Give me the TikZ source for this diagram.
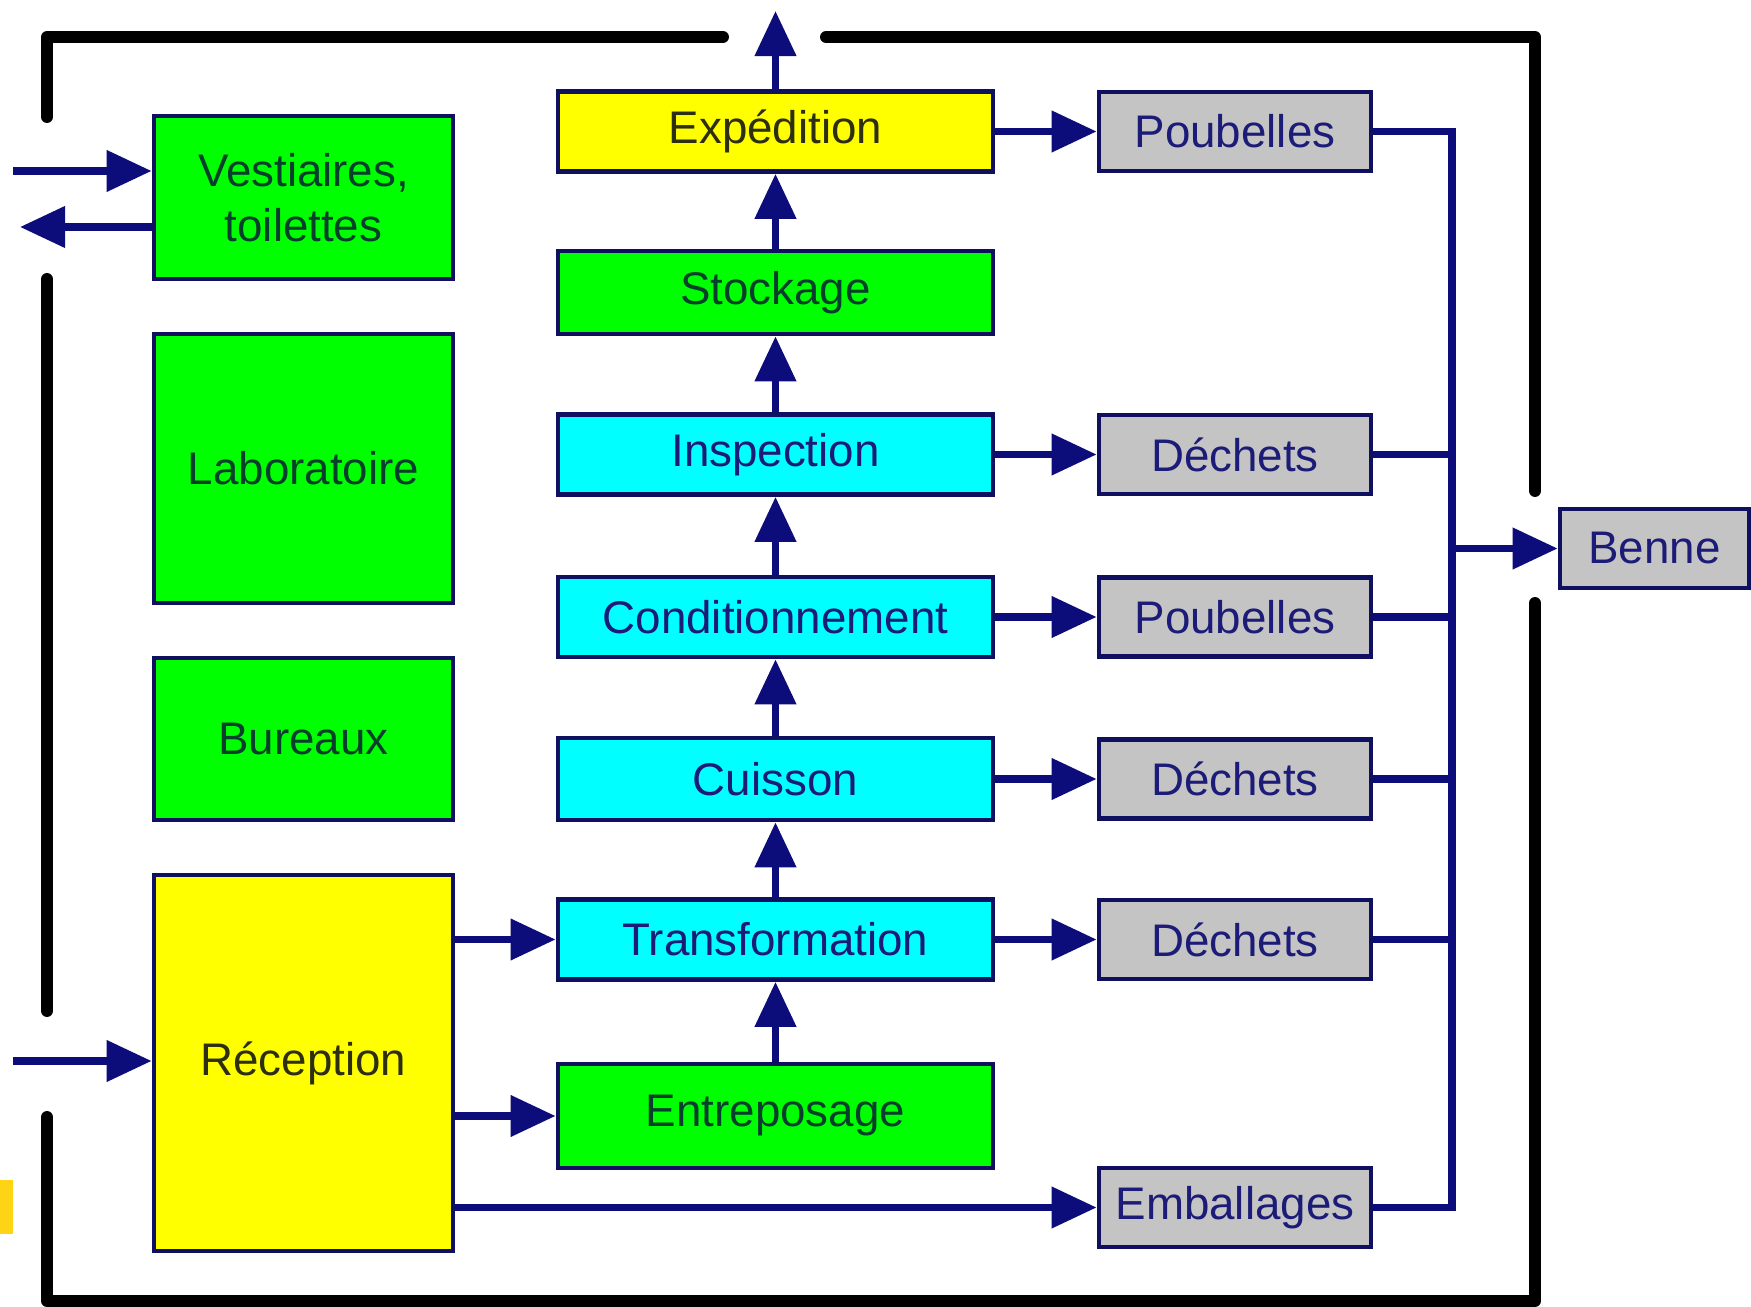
\documentclass[tikz,border=0pt]{standalone}
\usepackage{fontspec}
\setmainfont{Liberation Sans}
\usetikzlibrary{arrows.meta}
\definecolor{flowblue}{HTML}{0C0C7A}
\definecolor{edgeblue}{HTML}{101060}
\definecolor{boxgreen}{HTML}{00FF00}
\definecolor{boxcyan}{HTML}{00FFFF}
\definecolor{boxyellow}{HTML}{FFFF00}
\definecolor{boxgrey}{HTML}{C4C4C4}
\definecolor{txtgreen}{HTML}{06402C}
\definecolor{txtyellow}{HTML}{2E2E10}
\definecolor{txtblue}{HTML}{1C1C78}
\definecolor{patchgold}{HTML}{FFD414}
\tikzset{
  box/.style={draw=edgeblue, line width=1.3pt, inner sep=0pt, align=center,
    font=\fontsize{13}{15.5}\selectfont},
  midbox/.style={box, minimum width=4.35cm, minimum height=0.8cm},
  leftbox/.style={box, minimum width=2.99cm},
  wastebox/.style={box, fill=boxgrey, text=txtblue, minimum width=2.72cm, minimum height=0.79cm},
  green/.style={fill=boxgreen, text=txtgreen},
  cyan/.style={fill=boxcyan, text=txtblue},
  yellow/.style={fill=boxyellow, text=txtyellow},
  flow/.style={draw=flowblue, line width=2.1pt, -{Triangle[length=4.5mm,width=4mm]}},
  link/.style={draw=flowblue, line width=2.1pt, line join=miter},
  wall/.style={draw=black, line width=3.4pt, line cap=round, line join=round}
}
\begin{document}
\begin{tikzpicture}[x=0.01cm,y=-0.01cm]
\useasboundingbox (0,0) rectangle (1751,1307);

% building walls
\draw[wall] (47,117) -- (47,37) -- (723,37);
\draw[wall] (826,37) -- (1535,37) -- (1535,491);
\draw[wall] (1535,603) -- (1535,1301) -- (47,1301) -- (47,1117);
\draw[wall] (47,279) -- (47,1011);

% small marker at the lower left edge
\fill[patchgold] (0,1180) rectangle (13,1234);

% left column
\node[leftbox, green, minimum height=1.63cm] (vest) at (303.5,197.5) {Vestiaires,\\toilettes};
\node[leftbox, green, minimum height=2.69cm] (labo) at (303.5,468.5) {Laboratoire};
\node[leftbox, green, minimum height=1.62cm] (bur) at (303.5,739) {Bureaux};
\node[leftbox, yellow, minimum height=3.76cm] (recep) at (303.5,1063) {Réception};

% production line
\node[midbox, yellow] (exped) at (775.5,131.5) {Expédition};
\node[midbox, green, minimum height=0.83cm] (stock) at (775.5,292.5) {Stockage};
\node[midbox, cyan] (insp) at (775.5,454.5) {Inspection};
\node[midbox, cyan] (cond) at (775.5,617) {Conditionnement};
\node[midbox, cyan, minimum height=0.82cm] (cuis) at (775.5,779) {Cuisson};
\node[midbox, cyan] (transf) at (775.5,939.5) {Transformation};
\node[midbox, green, minimum height=1.04cm] (entr) at (775.5,1116) {Entreposage};

% waste containers
\node[wastebox] (poub1) at (1235,131.5) {Poubelles};
\node[wastebox] (dech1) at (1235,454.5) {Déchets};
\node[wastebox] (poub2) at (1235,617) {Poubelles};
\node[wastebox] (dech2) at (1235,779) {Déchets};
\node[wastebox] (dech3) at (1235,939.5) {Déchets};
\node[wastebox] (emb) at (1235,1207.5) {Emballages};
\node[wastebox, minimum width=1.89cm] (benne) at (1654.5,548.5) {Benne};

% entrances and exits
\coordinate (vin) at (13,171);
\coordinate (vout) at (20,227);
\coordinate (rin) at (13,1061);
\coordinate (outtop) at (775.5,11);
\draw[flow] (vin) -- (vin -| vest.west);
\draw[flow] (vout -| vest.west) -- (vout);
\draw[flow] (rin) -- (rin -| recep.west);
\draw[flow] (exped.north) -- (outtop);

% product flow
\draw[flow] (recep.east |- transf.west) -- (transf.west);
\draw[flow] (recep.east |- entr.west) -- (entr.west);
\draw[flow] (recep.east |- emb.west) -- (emb.west);
\draw[flow] (entr.north) -- (transf.south);
\draw[flow] (transf.north) -- (cuis.south);
\draw[flow] (cuis.north) -- (cond.south);
\draw[flow] (cond.north) -- (insp.south);
\draw[flow] (insp.north) -- (stock.south);
\draw[flow] (stock.north) -- (exped.south);

% waste flow
\draw[flow] (exped.east) -- (poub1.west);
\draw[flow] (insp.east) -- (dech1.west);
\draw[flow] (cond.east) -- (poub2.west);
\draw[flow] (cuis.east) -- (dech2.west);
\draw[flow] (transf.east) -- (dech3.west);

% collector to the skip
\coordinate (bustop) at (1452,131.5);
\coordinate (busbot) at (1452,1207.5);
\coordinate (busmid) at (1452,548.5);
\draw[link] (poub1.east) -- (bustop) -- (busbot) -- (emb.east);
\draw[link] (dech1.east) -- (dech1.east -| bustop);
\draw[link] (poub2.east) -- (poub2.east -| bustop);
\draw[link] (dech2.east) -- (dech2.east -| bustop);
\draw[link] (dech3.east) -- (dech3.east -| bustop);
\draw[flow] (busmid) -- (benne.west);
\end{tikzpicture}
\end{document}
